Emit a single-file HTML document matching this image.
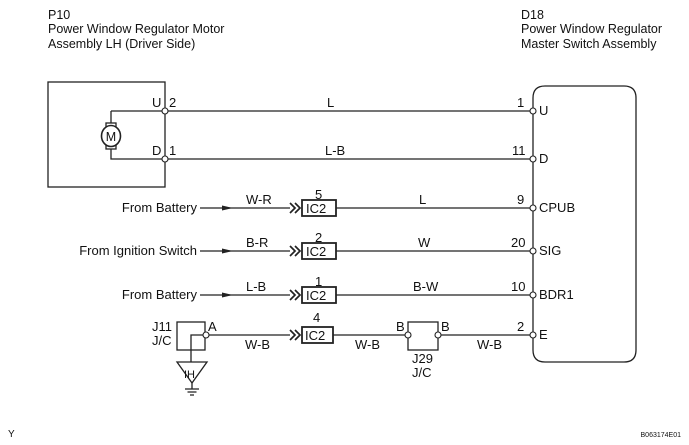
<!DOCTYPE html>
<html><head><meta charset="utf-8"><style>
html,body{margin:0;padding:0;background:#fff;}
svg{display:block;}
text{font-family:"Liberation Sans",Arial,sans-serif;fill:#111;}
</style></head><body>
<svg width="689" height="445" viewBox="0 0 689 445" xmlns="http://www.w3.org/2000/svg">
<g font-size="12.5">
<text x="48" y="19">P10</text>
<text x="48" y="33">Power Window Regulator Motor</text>
<text x="48" y="48">Assembly LH (Driver Side)</text>
<text x="521" y="19">D18</text>
<text x="521" y="33">Power Window Regulator</text>
<text x="521" y="48">Master Switch Assembly</text>
</g>
<g stroke="#222" stroke-width="1.3" fill="none">
<rect x="48" y="82" width="117" height="105"/>
<path d="M111 111 V125 M111 148 V159 H165 M111 111 H165"/>
<rect x="106" y="123" width="10" height="26" fill="#fff"/>
<ellipse cx="111" cy="136" rx="9.5" ry="10.5" fill="#fff" stroke-width="1.6"/>
<path d="M545 86 H624 Q636 86 636 98 V350 Q636 362 624 362 H545 Q533 362 533 350 V98 Q533 86 545 86 Z"/>
<path d="M165 111 H533 M165 159 H533"/>
<path d="M200 208 H290 M336 208 H533"/>
<path d="M200 251 H290 M336 251 H533"/>
<path d="M200 295 H290 M336 295 H533"/>
<path d="M206 335 H290 M333 335 H408 M438 335 H533"/>
<rect x="302" y="200" width="34" height="16" stroke-width="1.8"/>
<rect x="302" y="243" width="34" height="16" stroke-width="1.8"/>
<rect x="302" y="287" width="34" height="16" stroke-width="1.8"/>
<rect x="302" y="327" width="31" height="16" stroke-width="1.8"/>
<g stroke-width="1.7">
<path d="M290 203 L295 208 L290 213 M295 203 L300 208 L295 213"/>
<path d="M290 246 L295 251 L290 256 M295 246 L300 251 L295 256"/>
<path d="M290 290 L295 295 L290 300 M295 290 L300 295 L295 300"/>
<path d="M290 330 L295 335 L290 340 M295 330 L300 335 L295 340"/>
</g>
<rect x="177" y="322" width="28" height="28"/>
<path d="M206 335 H191 V362"/>
<path d="M177 362 H207 L192 383 Z"/>
<path d="M192 383 V389 M185 389 H199 M187.5 392 H196.5 M190 395 H194"/>
<rect x="408" y="322" width="30" height="28"/>
</g>
<g fill="#222">
<path d="M222 205.5 L233 208 L222 210.5 Z"/>
<path d="M222 248.5 L233 251 L222 253.5 Z"/>
<path d="M222 292.5 L233 295 L222 297.5 Z"/>
</g>
<g fill="#fff" stroke="#222" stroke-width="1.1">
<circle cx="165" cy="111" r="3"/><circle cx="165" cy="159" r="3"/>
<circle cx="533" cy="111" r="3"/><circle cx="533" cy="159" r="3"/>
<circle cx="533" cy="208" r="3"/><circle cx="533" cy="251" r="3"/>
<circle cx="533" cy="295" r="3"/><circle cx="533" cy="335" r="3"/>
<circle cx="206" cy="335" r="3"/><circle cx="408" cy="335" r="3"/><circle cx="438" cy="335" r="3"/>
</g>
<g font-size="13">
<text x="111" y="141" text-anchor="middle" font-size="12.5">M</text>
<text x="152" y="107">U</text><text x="169" y="107">2</text>
<text x="152" y="155">D</text><text x="169" y="155">1</text>
<text x="327" y="107">L</text><text x="325" y="155">L-B</text>
<text x="517" y="107">1</text><text x="539" y="115">U</text>
<text x="512" y="155">11</text><text x="539" y="163">D</text>
<text x="517" y="204">9</text><text x="539" y="212">CPUB</text>
<text x="511" y="247">20</text><text x="539" y="255">SIG</text>
<text x="511" y="291">10</text><text x="539" y="299">BDR1</text>
<text x="517" y="331">2</text><text x="539" y="339">E</text>
<text x="197" y="212" text-anchor="end">From Battery</text>
<text x="197" y="255" text-anchor="end">From Ignition Switch</text>
<text x="197" y="299" text-anchor="end">From Battery</text>
<text x="246" y="204">W-R</text><text x="246" y="247">B-R</text><text x="246" y="291">L-B</text>
<text x="419" y="204">L</text><text x="418" y="247">W</text><text x="413" y="291">B-W</text>
<text x="315" y="199">5</text><text x="315" y="242">2</text><text x="315" y="286">1</text><text x="313" y="322">4</text>
<text x="306" y="213">IC2</text><text x="306" y="256">IC2</text><text x="306" y="300">IC2</text><text x="305" y="340">IC2</text>
<text x="208" y="331">A</text>
<text x="152" y="331">J11</text><text x="152" y="345">J/C</text>
<text x="245" y="349">W-B</text><text x="355" y="349">W-B</text><text x="477" y="349">W-B</text>
<text x="396" y="331">B</text><text x="441" y="331">B</text>
<text x="412" y="363">J29</text><text x="412" y="377">J/C</text>
<text x="184" y="378" font-size="11">IH</text>
<text x="8" y="437" font-size="10">Y</text>
<text x="681" y="437" font-size="7" text-anchor="end">B063174E01</text>
</g>
</svg>
</body></html>
